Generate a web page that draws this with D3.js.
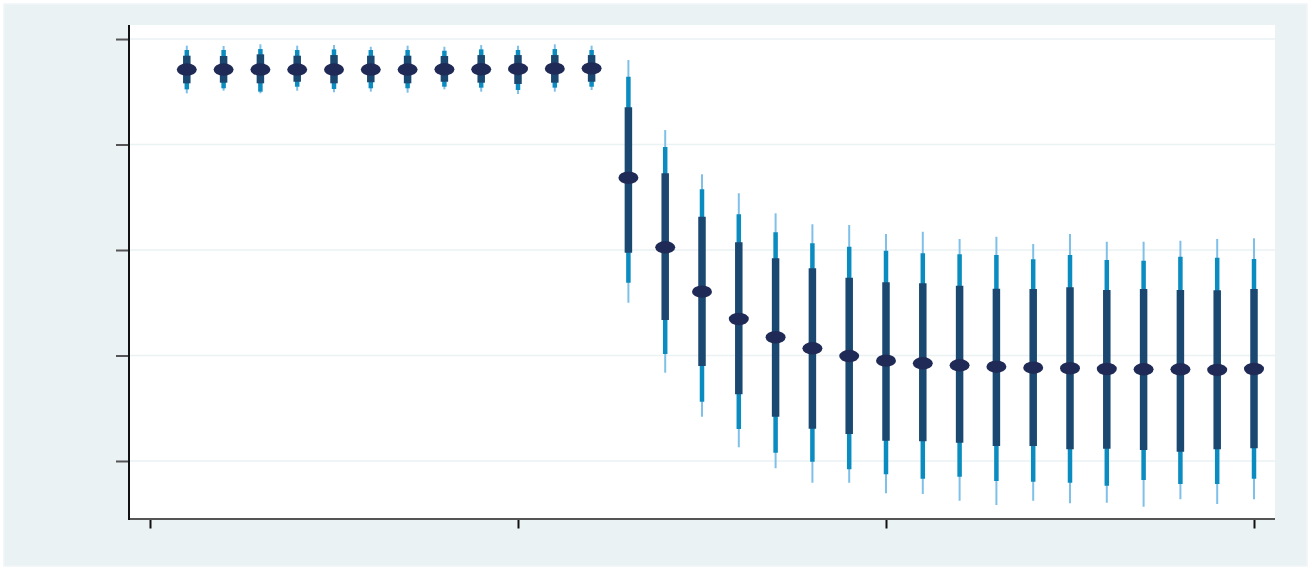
<!DOCTYPE html>
<html>
<head>
<meta charset="utf-8">
<script src="https://cdn.jsdelivr.net/npm/d3@7"></script>
<style>
  html, body { margin: 0; padding: 0; background: #ffffff; }
  svg { display: block; }
</style>
</head>
<body>
<svg id="chart" width="1311" height="569"></svg>
<script>
// ---- data ----
const periods = d3.range(1, 31);
const median = [3.711,3.711,3.711,3.711,3.711,3.711,3.711,3.713,3.713,3.716,3.719,3.722,
  2.685,2.026,1.605,1.346,1.173,1.068,0.995,0.951,0.926,0.907,0.894,0.884,0.879,0.872,0.869,0.869,0.863,0.872];
const innerHi = [3.842,3.839,3.855,3.842,3.848,3.842,3.842,3.839,3.848,3.848,3.848,3.848,
  3.353,2.727,2.316,2.073,1.921,1.827,1.738,1.694,1.684,1.662,1.633,1.630,1.646,1.621,1.630,1.621,1.618,1.630];
const innerLo = [3.580,3.586,3.580,3.595,3.580,3.590,3.580,3.595,3.586,3.574,3.586,3.595,
  1.974,1.337,0.900,0.632,0.420,0.306,0.256,0.192,0.187,0.173,0.142,0.142,0.111,0.117,0.104,0.088,0.111,0.120];
const midHi = [3.896,3.896,3.905,3.896,3.902,3.896,3.896,3.889,3.902,3.896,3.905,3.896,
  3.643,2.976,2.575,2.338,2.168,2.064,2.031,1.993,1.969,1.959,1.953,1.912,1.953,1.905,1.899,1.937,1.927,1.915];
const midLo = [3.523,3.533,3.501,3.548,3.526,3.533,3.533,3.548,3.539,3.517,3.539,3.548,
  1.690,1.014,0.562,0.303,0.079,-0.007,-0.079,-0.126,-0.168,-0.149,-0.190,-0.196,-0.206,-0.234,-0.180,-0.218,-0.218,-0.168];
const outerHi = [3.937,3.934,3.950,3.937,3.943,3.927,3.937,3.927,3.943,3.937,3.950,3.937,
  3.801,3.137,2.718,2.538,2.348,2.244,2.237,2.152,2.174,2.104,2.126,2.057,2.152,2.079,2.079,2.088,2.104,2.111];
const outerLo = [3.485,3.510,3.485,3.510,3.495,3.501,3.491,3.523,3.501,3.479,3.501,3.517,
  1.500,0.837,0.420,0.130,-0.069,-0.206,-0.206,-0.306,-0.313,-0.376,-0.417,-0.376,-0.401,-0.395,-0.433,-0.363,-0.408,-0.363];
const xTicks = [0, 10, 20, 30];
const yTicks = [0, 1, 2, 3, 4];

// ---- layout ----
const plot = { left: 129, right: 1275, top: 25, bottom: 519 };
const svg = d3.select("#chart");

svg.append("rect").attr("x", 4).attr("y", 4).attr("width", 1303).attr("height", 562)
  .attr("fill", "#eaf2f3").attr("stroke", "#f1f5f7").attr("stroke-width", 1.5);
svg.append("rect").attr("x", plot.left).attr("y", plot.top)
  .attr("width", plot.right - plot.left).attr("height", plot.bottom - plot.top)
  .attr("fill", "#ffffff");

const x = d3.scaleLinear().domain([0, 30]).range([150, 1254]);
const y = d3.scaleLinear().domain([-0.55, 4.133]).range([plot.bottom, plot.top]);

// grid
svg.append("g").selectAll("line").data(yTicks).join("line")
  .attr("x1", plot.left).attr("x2", plot.right)
  .attr("y1", d => y(d)).attr("y2", d => y(d))
  .attr("stroke", "#eaf2f3").attr("stroke-width", 1.5);

// axes
const yAxis = d3.axisLeft(y).tickValues(yTicks).tickSize(13).tickFormat(() => "");
const gy = svg.append("g").attr("transform", `translate(${plot.left},0)`).call(yAxis);
gy.select(".domain").remove();
gy.selectAll(".tick line").attr("stroke", "#555555").attr("stroke-width", 2);

const xAxis = d3.axisBottom(x).tickValues(xTicks).tickSize(9).tickFormat(() => "");
const gx = svg.append("g").attr("transform", `translate(0,${plot.bottom + 0.5})`).call(xAxis);
gx.select(".domain").remove();
gx.selectAll(".tick line").attr("stroke", "#111111").attr("stroke-width", 2);

svg.append("line").attr("x1", plot.left).attr("x2", plot.right)
  .attr("y1", plot.bottom).attr("y2", plot.bottom)
  .attr("stroke", "#555555").attr("stroke-width", 2);
svg.append("line").attr("x1", plot.left).attr("x2", plot.left)
  .attr("y1", plot.top).attr("y2", plot.bottom + 1)
  .attr("stroke", "#111111").attr("stroke-width", 2);

// fan bars
const rows = periods.map((p, i) => ({
  p, med: median[i], iH: innerHi[i], iL: innerLo[i], mH: midHi[i], mL: midLo[i], oH: outerHi[i], oL: outerLo[i]
}));
const g = svg.append("g");
function bars(hiKey, loKey, color, width) {
  g.append("g").selectAll("line").data(rows).join("line")
    .attr("x1", d => x(d.p)).attr("x2", d => x(d.p))
    .attr("y1", d => y(d[hiKey])).attr("y2", d => y(d[loKey]))
    .attr("stroke", color).attr("stroke-width", width);
}
bars("oH", "oL", "#7fc0e8", 2);
bars("mH", "mL", "#0a8cc0", 4.5);
bars("iH", "iL", "#1b4870", 7.5);

g.append("g").selectAll("ellipse").data(rows).join("ellipse")
  .attr("cx", d => x(d.p)).attr("cy", d => y(d.med))
  .attr("rx", 10).attr("ry", 6.2)
  .attr("fill", "#1f2b56");
</script>
</body>
</html>
